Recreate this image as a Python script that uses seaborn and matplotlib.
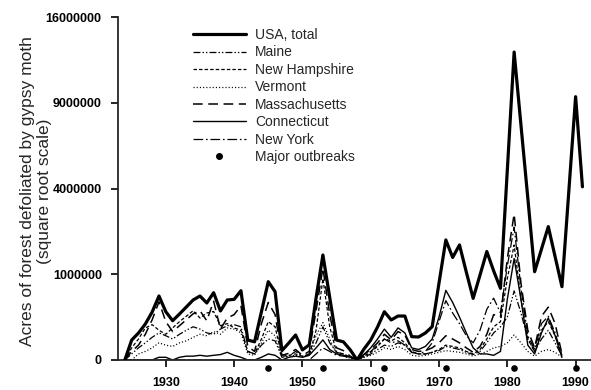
import numpy as np
import pandas as pd
import matplotlib
matplotlib.use("Agg")
import matplotlib.pyplot as plt
import matplotlib.transforms as mtransforms
from matplotlib.lines import Line2D
import seaborn as sns

# ---------------- data ----------------
years_usa = list(range(1924, 1992))
usa_total = [0, 54e3, 99e3, 176e3, 313e3, 557e3, 317e3, 210e3, 288e3, 382e3,
             490e3, 557e3, 442e3, 616e3, 327e3, 490e3, 500e3, 653e3, 54e3, 45e3,
             317e3, 834e3, 635e3, 12e3, 39e3, 85e3, 14e3, 31e3, 523e3, 1500e3,
             531e3, 54e3, 45e3, 14e3, 0, 16e3, 54e3, 148e3, 317e3, 218e3,
             263e3, 263e3, 74e3, 72e3, 99e3, 151e3, 806e3, 1960e3, 1430e3, 1800e3,
             1050e3, 517e3, 980e3, 1600e3, 1080e3, 699e3, 4900e3, 12900e3, 7500e3, 3570e3,
             1060e3, 1670e3, 2420e3, 1450e3, 731e3, 3850e3, 9430e3, 4080e3]

years_state = list(range(1924, 1989))
maine = [0, 5e3, 20e3, 40e3, 70e3, 100e3, 80e3, 60e3, 90e3, 120e3,
         150e3, 130e3, 100e3, 90e3, 130e3, 160e3, 170e3, 150e3, 10e3, 5e3,
         30e3, 60e3, 50e3, 1e3, 2e3, 10e3, 2e3, 5e3, 40e3, 150e3,
         40e3, 8e3, 5e3, 1e3, 0, 1e3, 5e3, 15e3, 30e3, 25e3,
         40e3, 30e3, 8e3, 5e3, 5e3, 8e3, 12e3, 25e3, 20e3, 15e3,
         8e3, 4e3, 10e3, 40e3, 100e3, 150e3, 250e3, 650e3, 300e3, 60e3,
         10e3, 60e3, 120e3, 40e3, 2e3]
new_hampshire = [0, 20e3, 60e3, 140e3, 170e3, 120e3, 90e3, 140e3, 200e3, 260e3,
                 330e3, 240e3, 300e3, 320e3, 160e3, 180e3, 140e3, 120e3, 10e3, 5e3,
                 60e3, 200e3, 150e3, 2e3, 3e3, 5e3, 2e3, 3e3, 120e3, 900e3,
                 150e3, 8e3, 5e3, 1e3, 0, 2e3, 8e3, 25e3, 60e3, 50e3,
                 70e3, 40e3, 10e3, 5e3, 5e3, 8e3, 15e3, 30e3, 25e3, 20e3,
                 10e3, 5e3, 15e3, 60e3, 150e3, 200e3, 900e3, 1800e3, 500e3, 60e3,
                 10e3, 120e3, 200e3, 80e3, 2e3]
vermont = [0, 0, 5e3, 10e3, 20e3, 40e3, 30e3, 25e3, 40e3, 50e3,
           70e3, 90e3, 80e3, 110e3, 90e3, 140e3, 130e3, 100e3, 5e3, 3e3,
           40e3, 120e3, 80e3, 1e3, 2e3, 3e3, 1e3, 5e3, 80e3, 190e3,
           60e3, 5e3, 3e3, 0, 0, 1e3, 3e3, 8e3, 20e3, 15e3,
           25e3, 15e3, 3e3, 2e3, 3e3, 5e3, 8e3, 12e3, 10e3, 8e3,
           5e3, 2e3, 5e3, 10e3, 20e3, 25e3, 40e3, 85e3, 40e3, 10e3,
           2e3, 10e3, 15e3, 8e3, 1e3]
massachusetts = [0, 10e3, 30e3, 90e3, 220e3, 460e3, 200e3, 110e3, 160e3, 220e3,
                 290e3, 330e3, 210e3, 470e3, 130e3, 240e3, 280e3, 400e3, 25e3, 10e3,
                 180e3, 450e3, 280e3, 3e3, 6e3, 15e3, 3e3, 10e3, 330e3, 1150e3,
                 280e3, 20e3, 12e3, 2e3, 0, 4e3, 15e3, 40e3, 90e3, 55e3,
                 110e3, 85e3, 15e3, 10e3, 12e3, 20e3, 40e3, 80e3, 60e3, 40e3,
                 20e3, 8e3, 25e3, 90e3, 280e3, 250e3, 1400e3, 2900e3, 800e3, 120e3,
                 20e3, 260e3, 380e3, 180e3, 5e3]
connecticut = [0, 0, 0, 0, 0, 1e3, 1e3, 0, 1e3, 2e3,
               2e3, 3e3, 2e3, 3e3, 4e3, 8e3, 3e3, 1e3, 0, 0,
               1e3, 5e3, 3e3, 0, 1e3, 2e3, 1e3, 3e3, 20e3, 55e3,
               15e3, 5e3, 3e3, 1e3, 0, 4e3, 20e3, 60e3, 130e3, 70e3,
               140e3, 100e3, 20e3, 15e3, 25e3, 60e3, 250e3, 660e3, 450e3, 250e3,
               100e3, 20e3, 5e3, 5e3, 3e3, 10e3, 500e3, 1400e3, 500e3, 30e3,
               5e3, 100e3, 240e3, 80e3, 1e3]
new_york = [0, 0, 0, 0, 0, 0, 0, 0, 0, 0,
            0, 0, 0, 0, 0, 0, 0, 0, 0, 0,
            0, 0, 0, 0, 0, 0, 0, 0, 5e3, 20e3,
            10e3, 3e3, 2e3, 1e3, 0, 2e3, 10e3, 30e3, 60e3, 40e3,
            50e3, 30e3, 8e3, 5e3, 10e3, 40e3, 200e3, 480e3, 300e3, 180e3,
            80e3, 40e3, 120e3, 350e3, 520e3, 300e3, 1200e3, 2400e3, 700e3, 80e3,
            15e3, 180e3, 260e3, 100e3, 3e3]

outbreak_years = [1945, 1953, 1962, 1971, 1981, 1990]

y_ticks = [0, 1000000, 4000000, 9000000, 16000000]
x_ticks = [1930, 1940, 1950, 1960, 1970, 1980, 1990]

# ---------------- style ----------------
sns.set_style("ticks")
plt.rcParams["font.family"] = ["Liberation Sans", "DejaVu Sans"]
plt.rcParams["lines.scale_dashes"] = False

W, H = 591, 390
fig = plt.figure(figsize=(W / 100, H / 100), dpi=100)
ax = fig.add_axes([118 / W, 1 - 360 / H, (W - 118) / W, (360 - 17) / H])

ax.set_yscale("function", functions=(lambda v: np.sqrt(np.clip(v, 0, None)),
                                     lambda v: np.square(v)))

states = [
    ("Maine", maine, (0, (5, 1.5, 1, 1.5, 1, 1.5)), 0.9),
    ("New Hampshire", new_hampshire, (0, (2.5, 1.5)), 0.9),
    ("Vermont", vermont, (0, (0.8, 1.5)), 0.9),
    ("Massachusetts", massachusetts, (0, (7, 4)), 1.1),
    ("Connecticut", connecticut, "-", 1.0),
    ("New York", new_york, (0, (7, 2, 1.2, 2)), 0.9),
]

handles = []
for name, vals, ls, lw in states:
    df = pd.DataFrame({"year": years_state, "acres": vals})
    sns.lineplot(data=df, x="year", y="acres", ax=ax, color="black",
                 linewidth=lw, linestyle=ls, estimator=None, legend=False)
    handles.append(Line2D([], [], color="black", linewidth=lw, linestyle=ls, label=name))

df_usa = pd.DataFrame({"year": years_usa, "acres": usa_total})
sns.lineplot(data=df_usa, x="year", y="acres", ax=ax, color="black",
             linewidth=2.3, estimator=None, legend=False, zorder=5)
usa_handle = Line2D([], [], color="black", linewidth=2.3, label="USA, total")

dot_tr = mtransforms.offset_copy(ax.transData, fig=fig, x=0, y=-8, units="dots")
ax.scatter(outbreak_years, [0] * len(outbreak_years), s=14, color="black",
           transform=dot_tr, clip_on=False, zorder=6)
dot_handle = Line2D([], [], color="black", marker="o", markersize=4,
                    linestyle="none", label="Major outbreaks")

ax.set_xlim(1923, 1923 + (W - 118) / 6.83)
ax.set_ylim(0, 16000000)
ax.set_yticks(y_ticks)
ax.set_yticklabels([str(t) for t in y_ticks])
ax.set_xticks(x_ticks)
ax.set_xticklabels([str(t) for t in x_ticks])
ax.set_xlabel("")
ax.set_ylabel("")

sns.despine(ax=ax)
ax.spines["left"].set_bounds(0, 16000000)
for sp in ("left", "bottom"):
    ax.spines[sp].set_linewidth(1.3)
ax.tick_params(axis="both", direction="out", length=4.7, width=1.2, colors="black",
               labelsize=9)
ax.tick_params(axis="y", pad=7)
ax.tick_params(axis="x", pad=7.5)
for lab in ax.get_xticklabels() + ax.get_yticklabels():
    lab.set_fontweight("bold")

fig.text(36 / W, 1 - 191 / H,
         "Acres of forest defoliated by gypsy moth\n(square root scale)",
         rotation=90, ha="center", va="center", multialignment="center",
         fontsize=12.5, linespacing=1.15)

leg_handles = [usa_handle] + handles + [dot_handle]
fig.legend(handles=leg_handles, loc="upper left",
           bbox_to_anchor=(193 / W, 1 - 28 / H), bbox_transform=fig.transFigure,
           frameon=False, fontsize=10, handlelength=3.8, handletextpad=0.65,
           labelspacing=0.25, borderpad=0, borderaxespad=0)

fig.savefig("out.png", dpi=100)
